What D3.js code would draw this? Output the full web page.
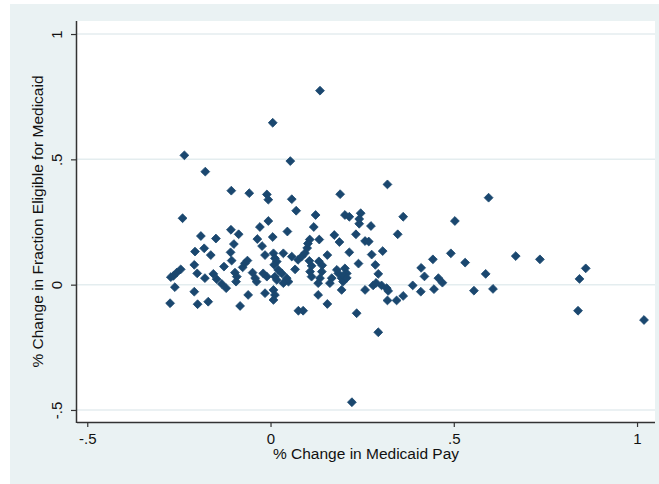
<!DOCTYPE html>
<html>
<head>
<meta charset="utf-8">
<script src="https://cdn.jsdelivr.net/npm/d3@7"></script>
<style>
  html, body { margin: 0; padding: 0; background: #ffffff; }
  svg { display: block; font-family: "Liberation Sans", Arial, sans-serif; }
</style>
</head>
<body>
<svg id="chart" width="659" height="484"></svg>
<script>
// % change in Medicaid pay (x) for each area
const payChange = [
  0.135, 0.006, -0.235, 0.054, -0.178, -0.107, -0.058, -0.010, -0.006, 0.058,
  0.070, -0.240, 0.123, -0.006, 0.118, -0.029, -0.108, -0.087, 0.046, -0.190,
  -0.149, 0.006, -0.036, 0.107, 0.133, 0.174, 0.188, 0.190, 0.319,
  0.203, 0.215, 0.246, 0.242, 0.242, 0.274, 0.362, 0.233, 0.258, 0.268, 0.347,
  -0.100, -0.206, -0.181, -0.163, -0.109, -0.106, -0.070, -0.063, -0.076, -0.127,
  -0.208, -0.200, -0.245, -0.256, -0.265, -0.272, -0.179, -0.156, -0.147, -0.133,
  -0.121, -0.097, -0.092, -0.094, -0.049, -0.261, -0.208, -0.274, -0.199, -0.170,
  -0.083, -0.061,
  -0.023, -0.015, 0.008, 0.012, 0.017, 0.010, 0.035, 0.058, 0.075, 0.085,
  0.094, 0.100, 0.102, 0.155, 0.106, 0.112, 0.132, 0.141, 0.067, 0.021,
  0.031, -0.020, -0.010, -0.042, -0.038, 0.012, 0.017, 0.044, 0.049, 0.035,
  0.108, 0.112, 0.140, 0.135, 0.130, 0.181, 0.185, 0.167, 0.162, 0.194,
  0.198, -0.015, 0.008, 0.012, 0.008, 0.130, 0.155, 0.076, 0.089,
  0.215, 0.276, 0.306, 0.240, 0.286, 0.203, 0.208, 0.199, 0.208, 0.294,
  0.194, 0.258, 0.280, 0.288, 0.303, 0.317, 0.321, 0.319, 0.344, 0.362,
  0.388, 0.410, 0.411, 0.420, 0.443, 0.446, 0.235, 0.294,
  0.458, 0.469, 0.492, 0.531, 0.555, 0.587, 0.607, 0.669, 0.735, 0.843,
  0.860, 0.839, 1.019, 0.222, 0.595, 0.503
];

// % change in fraction eligible for Medicaid (y), same order
const eligibleChange = [
  0.774, 0.646, 0.516, 0.493, 0.451, 0.375, 0.365, 0.360, 0.339, 0.341,
  0.295, 0.265, 0.278, 0.254, 0.230, 0.230, 0.219, 0.201, 0.212, 0.194,
  0.184, 0.190, 0.182, 0.180, 0.180, 0.198, 0.170, 0.361, 0.400,
  0.278, 0.271, 0.285, 0.262, 0.243, 0.234, 0.271, 0.201, 0.174, 0.172, 0.201,
  0.162, 0.132, 0.145, 0.118, 0.129, 0.096, 0.085, 0.096, 0.069, 0.072,
  0.079, 0.045, 0.061, 0.048, 0.035, 0.030, 0.026, 0.043, 0.022, 0.003,
  -0.014, 0.048, 0.032, 0.012, 0.048, -0.010, -0.028, -0.074, -0.078, -0.068,
  -0.085, -0.041,
  0.154, 0.118, 0.125, 0.105, 0.092, 0.079, 0.125, 0.112, 0.099, 0.112,
  0.126, 0.146, 0.164, 0.118, 0.095, 0.075, 0.093, 0.077, 0.061, 0.059,
  0.045, 0.045, 0.032, 0.026, 0.012, 0.032, 0.019, 0.026, 0.012, 0.006,
  0.052, 0.032, 0.052, 0.026, 0.006, 0.059, 0.045, 0.026, 0.006, 0.026,
  0.012, -0.034, -0.021, -0.041, -0.061, -0.041, -0.077, -0.104, -0.104,
  0.129, 0.120, 0.134, 0.084, 0.079, 0.065, 0.045, 0.037, 0.027, 0.043,
  -0.021, -0.021, -0.003, 0.007, -0.003, -0.014, -0.025, -0.063, -0.063, -0.045,
  -0.003, -0.028, 0.067, 0.033, 0.101, -0.018, -0.114, -0.190,
  0.026, 0.008, 0.125, 0.088, -0.024, 0.043, -0.017, 0.114, 0.101, 0.023,
  0.065, -0.104, -0.141, -0.469, 0.347, 0.254
];

// Axis ticks and their Stata-style labels
const xTickValues = [-0.5, 0, 0.5, 1];
const xTickLabels = ["-.5", "0", ".5", "1"];
const yTickValues = [-0.5, 0, 0.5, 1];
const yTickLabels = ["-.5", "0", ".5", "1"];

const xTitle = "% Change in Medicaid Pay";
const yTitle = "% Change in Fraction Eligible for Medicaid";

const W = 659, H = 484;
const plot = { left: 77, right: 655, top: 21, bottom: 422 };

const svg = d3.select("#chart");

// graph region background
svg.append("rect")
  .attr("x", 10).attr("y", 4)
  .attr("width", W - 10).attr("height", H - 4)
  .attr("fill", "#eaf2f3");

// plot region
svg.append("rect")
  .attr("x", plot.left).attr("y", plot.top)
  .attr("width", plot.right - plot.left).attr("height", plot.bottom - plot.top)
  .attr("fill", "#ffffff");

const x = d3.scaleLinear().domain([-0.528, 1.049]).range([plot.left, plot.right]);
const y = d3.scaleLinear().domain([-0.548, 1.052]).range([plot.bottom, plot.top]);

// horizontal gridlines
svg.append("g")
  .selectAll("line")
  .data(yTickValues)
  .join("line")
  .attr("x1", plot.left).attr("x2", plot.right)
  .attr("y1", d => y(d)).attr("y2", d => y(d))
  .attr("stroke", "#e4edef")
  .attr("stroke-width", 1.5);

// markers
const points = payChange.map((v, i) => [v, eligibleChange[i]]);
const diamond = d3.symbol().type(d3.symbolDiamond2).size(50);
svg.append("g")
  .selectAll("path")
  .data(points)
  .join("path")
  .attr("d", diamond)
  .attr("transform", d => `translate(${x(d[0])},${y(d[1])})`)
  .attr("fill", "#1a476f")
  .attr("stroke", "#1a476f")
  .attr("stroke-width", 0.8)
  .attr("stroke-linejoin", "round");

// x axis
const xAxis = svg.append("g")
  .attr("transform", `translate(0,${plot.bottom})`)
  .call(d3.axisBottom(x)
    .tickValues(xTickValues)
    .tickFormat((d, i) => xTickLabels[i])
    .tickSize(5)
    .tickPadding(6)
    .tickSizeOuter(0));
xAxis.select(".domain")
  .attr("d", `M${plot.left},0.5H${plot.right}`)
  .attr("stroke", "#333").attr("stroke-width", 1.5);
xAxis.selectAll(".tick line").attr("stroke", "#333").attr("stroke-width", 1.2);
xAxis.selectAll(".tick text")
  .attr("fill", "#111")
  .style("font-size", "15px")
  .style("font-family", "'Liberation Sans', Arial, sans-serif");

// y axis with rotated tick labels
const yAxis = svg.append("g")
  .attr("transform", `translate(${plot.left},0)`)
  .call(d3.axisLeft(y)
    .tickValues(yTickValues)
    .tickFormat((d, i) => yTickLabels[i])
    .tickSize(6)
    .tickSizeOuter(0));
yAxis.select(".domain")
  .attr("d", `M-0.5,${plot.top}V${plot.bottom + 1}`)
  .attr("stroke", "#333").attr("stroke-width", 1.5);
yAxis.selectAll(".tick line").attr("stroke", "#333").attr("stroke-width", 1.2);
yAxis.selectAll(".tick text")
  .attr("x", null).attr("dy", null)
  .attr("transform", "translate(-15,0) rotate(-90)")
  .attr("text-anchor", "middle")
  .attr("fill", "#111")
  .style("font-size", "15px")
  .style("font-family", "'Liberation Sans', Arial, sans-serif");

// axis titles
svg.append("text")
  .attr("x", (plot.left + plot.right) / 2)
  .attr("y", 459)
  .attr("text-anchor", "middle")
  .attr("fill", "#111")
  .style("font-size", "15.5px")
  .text(xTitle);

svg.append("text")
  .attr("transform", `translate(43,${(plot.top + plot.bottom) / 2}) rotate(-90)`)
  .attr("text-anchor", "middle")
  .attr("fill", "#111")
  .style("font-size", "15.5px")
  .text(yTitle);
</script>
</body>
</html>
